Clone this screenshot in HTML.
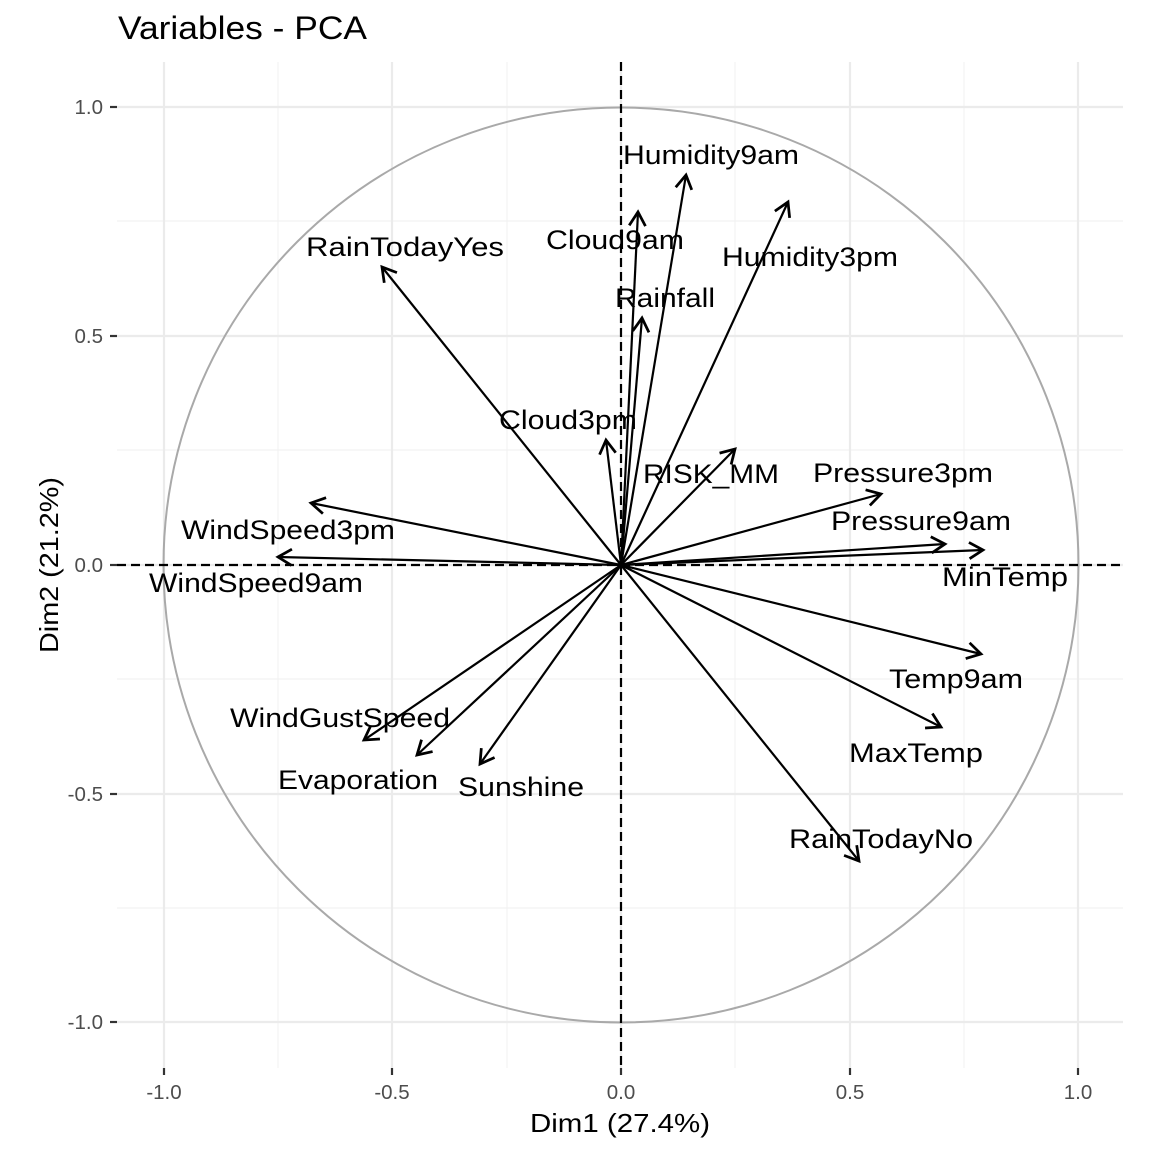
<!DOCTYPE html>
<html><head><meta charset="utf-8"><style>
html,body{margin:0;padding:0;background:#fff}
svg{display:block;font-family:"Liberation Sans",Arial,sans-serif}
</style></head><body>
<svg width="1152" height="1152" viewBox="0 0 1152 1152" xmlns="http://www.w3.org/2000/svg">
<defs>
<marker id="ah" markerWidth="20" markerHeight="20" refX="0" refY="0" viewBox="-12 -8 14 16" orient="auto" markerUnits="userSpaceOnUse">
<polyline points="-11,-6.5 0,0 -11,6.5" fill="none" stroke="#000" stroke-width="2.2"/>
</marker>
</defs>
<rect width="1152" height="1152" fill="#fff"/>
<g stroke="#f2f2f2" stroke-width="1.2">
<line x1="278" y1="62" x2="278" y2="1068"/><line x1="507" y1="62" x2="507" y2="1068"/>
<line x1="735" y1="62" x2="735" y2="1068"/><line x1="964" y1="62" x2="964" y2="1068"/>
<line x1="117" y1="221" x2="1123" y2="221"/><line x1="117" y1="450" x2="1123" y2="450"/>
<line x1="117" y1="679" x2="1123" y2="679"/><line x1="117" y1="908" x2="1123" y2="908"/>
</g>
<g stroke="#ebebeb" stroke-width="2.2">
<line x1="164" y1="62" x2="164" y2="1068"/><line x1="392" y1="62" x2="392" y2="1068"/>
<line x1="621" y1="62" x2="621" y2="1068"/><line x1="850" y1="62" x2="850" y2="1068"/>
<line x1="1078" y1="62" x2="1078" y2="1068"/>
<line x1="117" y1="107" x2="1123" y2="107"/><line x1="117" y1="336" x2="1123" y2="336"/>
<line x1="117" y1="565" x2="1123" y2="565"/><line x1="117" y1="794" x2="1123" y2="794"/>
<line x1="117" y1="1022" x2="1123" y2="1022"/>
</g>
<circle cx="621" cy="565" r="457.5" fill="none" stroke="#a9a9a9" stroke-width="2"/>
<g stroke="#000" stroke-width="2.2" stroke-dasharray="9,5">
<line x1="621" y1="62" x2="621" y2="1068"/>
<line x1="117" y1="565" x2="1123" y2="565"/>
</g>
<g stroke="#000" stroke-width="2.2" marker-end="url(#ah)">
<line x1="621" y1="565" x2="686" y2="175"/>
<line x1="621" y1="565" x2="638" y2="212"/>
<line x1="621" y1="565" x2="788" y2="202"/>
<line x1="621" y1="565" x2="382" y2="267"/>
<line x1="621" y1="565" x2="642" y2="318"/>
<line x1="621" y1="565" x2="606" y2="440"/>
<line x1="621" y1="565" x2="735" y2="449"/>
<line x1="621" y1="565" x2="881" y2="494"/>
<line x1="621" y1="565" x2="311" y2="503"/>
<line x1="621" y1="565" x2="945" y2="544"/>
<line x1="621" y1="565" x2="983" y2="550"/>
<line x1="621" y1="565" x2="278" y2="557"/>
<line x1="621" y1="565" x2="981" y2="654"/>
<line x1="621" y1="565" x2="941" y2="727"/>
<line x1="621" y1="565" x2="364" y2="740"/>
<line x1="621" y1="565" x2="417" y2="755"/>
<line x1="621" y1="565" x2="480" y2="764"/>
<line x1="621" y1="565" x2="859" y2="861"/>
</g>
<g font-size="27" fill="#000" text-anchor="middle" transform="translate(0,0)">
<text x="711" y="164" textLength="176" lengthAdjust="spacingAndGlyphs">Humidity9am</text>
<text x="615" y="249" textLength="138" lengthAdjust="spacingAndGlyphs">Cloud9am</text>
<text x="810" y="266" textLength="176" lengthAdjust="spacingAndGlyphs">Humidity3pm</text>
<text x="405" y="256" textLength="198" lengthAdjust="spacingAndGlyphs">RainTodayYes</text>
<text x="665" y="307" textLength="100" lengthAdjust="spacingAndGlyphs">Rainfall</text>
<text x="568" y="429" textLength="138" lengthAdjust="spacingAndGlyphs">Cloud3pm</text>
<text x="711" y="483" textLength="136" lengthAdjust="spacingAndGlyphs">RISK_MM</text>
<text x="903" y="482" textLength="180" lengthAdjust="spacingAndGlyphs">Pressure3pm</text>
<text x="288" y="539" textLength="214" lengthAdjust="spacingAndGlyphs">WindSpeed3pm</text>
<text x="921" y="530" textLength="180" lengthAdjust="spacingAndGlyphs">Pressure9am</text>
<text x="1005" y="586" textLength="126" lengthAdjust="spacingAndGlyphs">MinTemp</text>
<text x="256" y="592" textLength="214" lengthAdjust="spacingAndGlyphs">WindSpeed9am</text>
<text x="956" y="688" textLength="134" lengthAdjust="spacingAndGlyphs">Temp9am</text>
<text x="916" y="762" textLength="134" lengthAdjust="spacingAndGlyphs">MaxTemp</text>
<text x="340" y="727" textLength="220" lengthAdjust="spacingAndGlyphs">WindGustSpeed</text>
<text x="358" y="789" textLength="160" lengthAdjust="spacingAndGlyphs">Evaporation</text>
<text x="521" y="796" textLength="126" lengthAdjust="spacingAndGlyphs">Sunshine</text>
<text x="881" y="848" textLength="184" lengthAdjust="spacingAndGlyphs">RainTodayNo</text>
</g>
<g stroke="#333" stroke-width="2.2">
<line x1="164" y1="1068" x2="164" y2="1075"/><line x1="392" y1="1068" x2="392" y2="1075"/>
<line x1="621" y1="1068" x2="621" y2="1075"/><line x1="850" y1="1068" x2="850" y2="1075"/>
<line x1="1078" y1="1068" x2="1078" y2="1075"/>
<line x1="110" y1="107" x2="117" y2="107"/><line x1="110" y1="336" x2="117" y2="336"/>
<line x1="110" y1="565" x2="117" y2="565"/><line x1="110" y1="794" x2="117" y2="794"/>
<line x1="110" y1="1022" x2="117" y2="1022"/>
</g>
<g font-size="20.5" fill="#4d4d4d" text-anchor="middle">
<text x="164" y="1099">-1.0</text><text x="392" y="1099">-0.5</text>
<text x="621" y="1099">0.0</text><text x="850" y="1099">0.5</text>
<text x="1078" y="1099">1.0</text>
</g>
<g font-size="20.5" fill="#4d4d4d" text-anchor="end">
<text x="103" y="114">1.0</text><text x="103" y="343">0.5</text>
<text x="103" y="572">0.0</text><text x="103" y="801">-0.5</text>
<text x="103" y="1029">-1.0</text>
</g>
<text x="620" y="1132" font-size="26" text-anchor="middle" fill="#000" textLength="180" lengthAdjust="spacingAndGlyphs">Dim1 (27.4%)</text>
<text transform="translate(58,565) rotate(-90)" font-size="26" text-anchor="middle" fill="#000" textLength="176" lengthAdjust="spacingAndGlyphs">Dim2 (21.2%)</text>
<text x="118" y="39" font-size="32" fill="#000" textLength="249" lengthAdjust="spacingAndGlyphs">Variables - PCA</text>
</svg>
</body></html>
